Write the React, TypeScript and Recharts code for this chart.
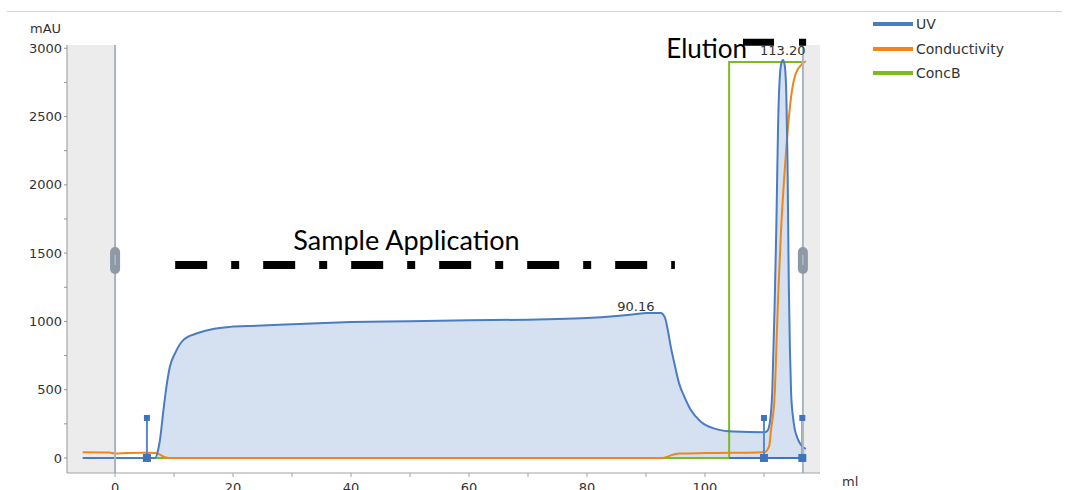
import React from "react";
import {
  ComposedChart,
  Area,
  Line,
  XAxis,
  YAxis,
  ReferenceArea,
  ReferenceLine,
  ReferenceDot,
} from "recharts";

// UV trace (ml, mAU)
const uvMl = [
  -5.5, 5.4, 6.8, 7.3, 7.6, 8.2, 8.8, 9.3, 10.2, 11.6, 13.9, 16.6, 19.5, 24, 30, 40, 50, 60, 70, 75, 80, 85, 88,
  90.16, 92.5, 93.2, 93.7, 94.2, 94.8, 95.6, 96.5, 97.6, 99.3, 101.5, 104.9, 110, 110.6, 111.0, 111.4, 111.8, 112.1,
  112.4, 112.7, 113.0, 113.2, 113.5, 113.8, 114.0, 114.2, 114.4, 114.6, 114.9, 115.2, 115.6, 116.0, 116.5, 117.1,
];
const uvMau = [
  0, 0, 0, 60, 130, 350, 550, 670, 770, 865, 913, 945, 960, 968, 980, 995, 1002, 1008, 1013, 1017, 1025, 1040, 1052,
  1061, 1062, 1030, 937, 815, 695, 548, 449, 351, 266, 217, 193, 188, 200, 260, 480, 1100, 1700,
  2450, 2800, 2900, 2914, 2880, 2650, 2150, 1300, 800, 480, 310, 215, 155, 115, 85, 66,
];

// Conductivity trace (ml, scaled)
const condMl = [
  -5.5, -1, 0, 2, 5, 6.8, 7.6, 8.5, 9.2, 92.8, 93.8, 94.8, 95.8, 100, 105, 109, 110.3, 110.7, 110.9, 111.2, 111.8,
  112.1, 112.4, 112.9, 113.6, 114.6, 115.4, 116.6, 117.1,
];
const condValues = [
  42, 40, 33, 36, 38, 37, 25, 5, 0, 0, 12, 28, 33, 36, 38, 40, 45, 70, 90, 205, 450,
  800, 1180, 1669, 2157, 2645, 2816, 2890, 2905,
];

// Concentration B step (ml, scaled)
const concBMl = [5.4, 104.1, 104.1, 116.8];
const concBValues = [0, 0, 2900, 2900];

const xTicks = [0, 10, 20, 30, 40, 50, 60, 70, 80, 90, 100, 110];
const yTicks = [0, 250, 500, 750, 1000, 1250, 1500, 1750, 2000, 2250, 2500, 2750, 3000];

// fraction / injection marks (ml)
const markMl = [5.4, 110, 116.5];

const uvData = uvMl.map((ml, i) => ({ ml, uv: uvMau[i] }));
const condData = condMl.map((ml, i) => ({ ml, cond: condValues[i] }));
const concBData = concBMl.map((ml, i) => ({ ml, concB: concBValues[i] }));

const series = [
  { name: "UV", color: "#4a7cc1" },
  { name: "Conductivity", color: "#f0861a" },
  { name: "ConcB", color: "#7dba1e" },
];

const tickFont = "'DejaVu Sans', sans-serif";
const bigFont = "Lato, 'Open Sans', sans-serif";

const XTick = (props: any) => {
  const { x, y, payload } = props;
  if (payload.value % 20 !== 0) return null;
  return (
    <text x={x} y={y} dy="0.71em" textAnchor="middle" fontSize={13} fontFamily={tickFont} fill="#333">
      {payload.value}
    </text>
  );
};

const YTick = (props: any) => {
  const { x, y, payload } = props;
  if (payload.value % 500 !== 0) return null;
  return (
    <text x={x} y={y} dy="0.355em" textAnchor="end" fontSize={13} fontFamily={tickFont} fill="#333">
      {payload.value}
    </text>
  );
};

const Grip = (props: any) => {
  const { cx, cy } = props;
  return (
    <g>
      <rect x={cx - 5} y={cy - 13} width={10} height={27} rx={5} fill="#8e99a6" />
      <line x1={cx} y1={cy - 5} x2={cx} y2={cy + 5} stroke="#c4ccd5" strokeWidth={1} />
    </g>
  );
};

const BigHandle = (props: any) => (
  <rect x={props.cx - 4} y={props.cy - 4} width={8} height={8} fill="#3f74bd" />
);
const SmallHandle = (props: any) => (
  <rect x={props.cx - 3} y={props.cy - 3} width={6} height={6} fill="#3f74bd" />
);

export default function App() {
  return (
    <div style={{ position: "absolute", left: 0, top: 0, width: 1066, height: 490, background: "#fff" }}>
      <div style={{ position: "absolute", left: 7, top: 11, width: 1055, height: 1, background: "#d3d3d3" }} />
      <div
        style={{
          position: "absolute",
          left: 30,
          top: 21,
          fontFamily: tickFont,
          fontSize: 13,
          color: "#333",
        }}
      >
        mAU
      </div>
      <div
        style={{
          position: "absolute",
          left: 842,
          top: 474,
          fontFamily: tickFont,
          fontSize: 13,
          color: "#333",
        }}
      >
        ml
      </div>
      {series.map((s, i) => (
        <div
          key={s.name}
          style={{ position: "absolute", left: 873, top: 15 + i * 24.5, display: "flex", alignItems: "center", height: 18 }}
        >
          <div style={{ width: 40, height: 4, background: s.color }} />
          <span style={{ marginLeft: 3, fontFamily: tickFont, fontSize: 14, color: "#333" }}>{s.name}</span>
        </div>
      ))}
      <ComposedChart width={1066} height={490} margin={{ top: 45, right: 246, bottom: 0, left: 0 }}>
        <XAxis
          dataKey="ml"
          type="number"
          domain={[-8.15, 119.5]}
          ticks={xTicks}
          allowDataOverflow
          height={17}
          tick={<XTick />}
          tickSize={4}
          tickMargin={6}
          stroke="#a3a3a3"
          interval={0}
        />
        <YAxis
          type="number"
          domain={[-110, 3024]}
          ticks={yTicks}
          allowDataOverflow
          width={67}
          tick={<YTick />}
          tickSize={3}
          tickMargin={2}
          stroke="#969696"
          interval={0}
        />
        <Area
          data={uvData}
          dataKey="uv"
          type="monotone"
          baseValue={0}
          stroke="none"
          fill="#d5e1f0"
          fillOpacity={1}
          isAnimationActive={false}
          dot={false}
          activeDot={false}
        />
        <Line
          data={concBData}
          dataKey="concB"
          type="linear"
          stroke="#7dba1e"
          strokeWidth={2}
          dot={false}
          activeDot={false}
          isAnimationActive={false}
        />
        <Line
          data={condData}
          dataKey="cond"
          type="monotone"
          stroke="#f0861a"
          strokeWidth={2}
          dot={false}
          activeDot={false}
          isAnimationActive={false}
        />
        <Line
          data={uvData}
          dataKey="uv"
          type="monotone"
          stroke="#4a7cc1"
          strokeWidth={2}
          dot={false}
          activeDot={false}
          isAnimationActive={false}
        />
        <ReferenceLine
          segment={[
            { x: 104.1, y: 0 },
            { x: 116.5, y: 0 },
          ]}
          stroke="#3f74bd"
          strokeWidth={2}
        />
        {markMl.map((m) => (
          <ReferenceLine
            key={"m" + m}
            segment={[
              { x: m, y: 0 },
              { x: m, y: 293 },
            ]}
            stroke="#5a88c8"
            strokeWidth={2}
          />
        ))}
        {markMl.map((m) => (
          <ReferenceDot key={"b" + m} x={m} y={0} r={4} shape={<BigHandle />} />
        ))}
        {markMl.map((m) => (
          <ReferenceDot key={"s" + m} x={m} y={293} r={3} shape={<SmallHandle />} />
        ))}
        <ReferenceArea x1={-8.15} x2={0} fill="#dcdcdc" fillOpacity={0.55} stroke="none" />
        <ReferenceArea x1={116.6} x2={119.5} fill="#dcdcdc" fillOpacity={0.55} stroke="none" />
        <ReferenceLine x={0} stroke="#a9b4c1" strokeWidth={2} />
        <ReferenceLine x={116.6} stroke="#a9b4c1" strokeWidth={2} />
        <ReferenceDot x={0} y={1450} r={5} shape={<Grip />} />
        <ReferenceDot x={116.6} y={1450} r={5} shape={<Grip />} />
        <ReferenceDot
          x={90.16}
          y={1061}
          r={0}
          fill="none"
          stroke="none"
          label={{ value: "90.16", position: "top", dx: -11, dy: 3, fontSize: 13, fontFamily: tickFont, fill: "#333" }}
        />
        <ReferenceDot
          x={113.2}
          y={2914}
          r={0}
          fill="none"
          stroke="none"
          label={{ value: "113.20", position: "top", fontSize: 13, fontFamily: tickFont, fill: "#333" }}
        />
        <ReferenceLine
          segment={[
            { x: 10.19, y: 1413 },
            { x: 94.9, y: 1413 },
          ]}
          stroke="#000"
          strokeWidth={8}
          strokeDasharray="32 24 8 24"
        />
        <ReferenceLine
          segment={[
            { x: 106.45, y: 3045 },
            { x: 117.15, y: 3045 },
          ]}
          ifOverflow="visible"
          stroke="#000"
          strokeWidth={7}
          strokeDasharray="31 25 8 25"
        />
        <ReferenceDot
          x={49.4}
          y={1596}
          r={0}
          fill="none"
          stroke="none"
          label={{ value: "Sample Application", position: "center", fontSize: 27, fontFamily: bigFont, fill: "#000" }}
        />
        <ReferenceDot
          x={100.3}
          y={3000}
          r={0}
          fill="none"
          stroke="none"
          ifOverflow="visible"
          label={{ value: "Elution", position: "center", fontSize: 26, fontFamily: bigFont, fill: "#000" }}
        />
      </ComposedChart>
    </div>
  );
}
